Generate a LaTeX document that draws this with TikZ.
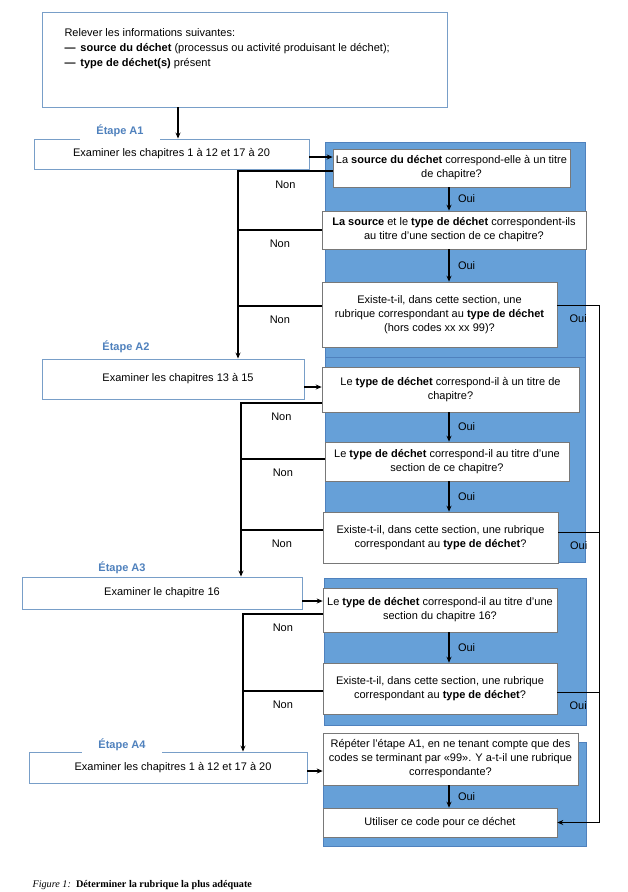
\documentclass[tikz,border=0pt]{standalone}
\usepackage{fontspec}
\setmainfont{Liberation Sans}
\newfontfamily\capfont{Liberation Serif}
\usetikzlibrary{arrows.meta}
\definecolor{panelblue}{RGB}{102,160,216}
\definecolor{paneledge}{RGB}{79,129,189}
\definecolor{etapeblue}{RGB}{79,129,189}
\definecolor{stepedge}{RGB}{120,158,200}
\definecolor{qedge}{RGB}{120,120,120}

\begin{document}
\begin{tikzpicture}[x=1pt,y=-1pt,
  every node/.style={font=\fontsize{11}{14}\selectfont},
  stepbox/.style={draw=stepedge,fill=white,inner sep=0pt,line width=0.9pt},
  qbox/.style={draw=qedge,fill=white,inner sep=0pt,align=center,line width=0.6pt},
  etape/.style={fill=white,text=etapeblue,font=\fontsize{11}{14}\selectfont\bfseries,inner xsep=16pt,inner ysep=3pt},
  wire/.style={line width=1.4pt},
  arr/.style={wire,-{Stealth[length=6pt,width=5pt]}},
  thinwire/.style={line width=1pt},
  nonlbl/.style={below=6pt},
  ouilbl/.style={right=5pt}]
\useasboundingbox (0,0) rectangle (628,892);

% blue panels
\filldraw[fill=panelblue,draw=paneledge] (325,142) rectangle (585,357);
\filldraw[fill=panelblue,draw=paneledge] (325,357) rectangle (585,562);
\filldraw[fill=panelblue,draw=paneledge] (324,578) rectangle (586,725);
\filldraw[fill=panelblue,draw=paneledge] (323,742) rectangle (586,846);

\node[stepbox,minimum width=405pt,minimum height=95pt] (info) at (244.5,59.5) {};
\node[anchor=west,align=left,font=\fontsize{11}{15}\selectfont] (infotext) at (61,49)
  {Relever les informations suivantes:\\
   \textbf{—}\, \textbf{source du déchet} (processus ou activité produisant le déchet);\\
   \textbf{—}\, \textbf{type de déchet(s)} présent};

\node[stepbox,minimum width=275pt,minimum height=30pt] (a1) at (171.5,154) {Examiner les chapitres 1 à 12 et 17 à 20};
\node[stepbox,minimum width=262pt,minimum height=40pt] (a2) at (173,379) {\hspace{10pt}Examiner les chapitres 13 à 15};
\node[stepbox,minimum width=280pt,minimum height=32pt] (a3) at (162,593) {Examiner le chapitre 16};
\node[stepbox,minimum width=278pt,minimum height=31pt] (a4) at (168,767.5) {\hspace{10pt}Examiner les chapitres 1 à 12 et 17 à 20};

\node[etape] (e1) at (120,131) {Étape A1};
\node[etape] (e2) at (126,347) {Étape A2};
\node[etape] (e3) at (122,568) {Étape A3};
\node[etape] (e4) at (122,745) {Étape A4};

\node[qbox,minimum width=237pt,minimum height=38pt] (q1) at (451.5,168) {La \textbf{source du déchet} correspond-elle à un titre\\de chapitre?};
\node[qbox,minimum width=264pt,minimum height=38pt] (q2) at (454,230) {\textbf{La source} et le \textbf{type de déchet} correspondent-ils\\au titre d'une section de ce chapitre?};
\node[qbox,minimum width=235pt,minimum height=65pt] (q3) at (439.5,314.5) {Existe-t-il, dans cette section, une\\rubrique correspondant au \textbf{type de déchet}\\(hors codes xx xx 99)?};
\node[qbox,minimum width=257pt,minimum height=45pt] (q4) at (450.5,389.5) {Le \textbf{type de déchet} correspond-il à un titre de\\chapitre?};
\node[qbox,minimum width=244pt,minimum height=39pt] (q5) at (447,461.5) {Le \textbf{type de déchet} correspond-il au titre d'une\\section de ce chapitre?};
\node[qbox,minimum width=235pt,minimum height=51pt] (q6) at (440.5,537.5) {Existe-t-il, dans cette section, une rubrique\\correspondant au \textbf{type de déchet}?};
\node[qbox,minimum width=234pt,minimum height=44pt] (q7) at (440,610) {Le \textbf{type de déchet} correspond-il au titre d'une\\section du chapitre 16?};
\node[qbox,minimum width=234pt,minimum height=51pt] (q8) at (440,688.5) {Existe-t-il, dans cette section, une rubrique\\correspondant au \textbf{type de déchet}?};
\node[qbox,minimum width=255pt,minimum height=52pt] (q9) at (450.5,759) {Répéter l'étape A1, en ne tenant compte que des\\codes se terminant par «99». Y a-t-il une rubrique\\correspondante?};
\node[qbox,minimum width=234pt,minimum height=29pt] (q10) at (440,822.5) {Utiliser ce code pour ce déchet};

\coordinate (ouix) at (449,0);
\coordinate (t1) at (238,0);
\coordinate (t2) at (241,0);
\coordinate (t3) at (243,0);
\coordinate (rt) at (599,0);

\draw[arr] ([xshift=-66.5pt]info.south) coordinate (d0) -- (d0 |- a1.north);
\draw[arr] ([yshift=-3pt]a1.east) -- ([yshift=-3pt]a1.east -| q1.west);
\draw[arr] ([yshift=-8pt]a2.east) -- ([yshift=-8pt]a2.east -| q4.west);
\draw[arr] ([yshift=-8pt]a3.east) -- ([yshift=-8pt]a3.east -| q7.west);
\draw[arr] ([yshift=-3.5pt]a4.east) -- ([yshift=-3.5pt]a4.east -| q9.west);

% Oui, going down
\draw[arr] (q1.south -| ouix) -- node[ouilbl] (o1) {Oui} (q2.north -| ouix);
\draw[arr] (q2.south -| ouix) -- node[ouilbl] (o2) {Oui} (q3.north -| ouix);
\draw[arr] (q4.south -| ouix) -- node[ouilbl] (o3) {Oui} (q5.north -| ouix);
\draw[arr] (q5.south -| ouix) -- node[ouilbl] (o4) {Oui} (q6.north -| ouix);
\draw[arr] (q7.south -| ouix) -- node[ouilbl] (o5) {Oui} (q8.north -| ouix);
\draw[arr] (q9.south -| ouix) -- node[ouilbl] (o6) {Oui} (q10.north -| ouix);

% Non, back to the next step
\draw[arr] ([yshift=-3pt]q1.west) -| node[pos=0.25,nonlbl] (n1) {Non} (t1 |- a2.north);
\draw[wire] (q2.west) -- node[nonlbl] (n2) {Non} (q2.west -| t1);
\draw[wire] ([yshift=8.5pt]q3.west) -- node[nonlbl] (n3) {Non} ([yshift=8.5pt]q3.west -| t1);
\draw[arr] ([yshift=-13.5pt]q4.west) -| node[pos=0.25,nonlbl] (n4) {Non} (t2 |- a3.north);
\draw[wire] ([yshift=2.5pt]q5.west) -- node[nonlbl] (n5) {Non} ([yshift=2.5pt]q5.west -| t2);
\draw[wire] ([yshift=7.5pt]q6.west) -- node[nonlbl] (n6) {Non} ([yshift=7.5pt]q6.west -| t2);
\draw[arr] ([yshift=-4pt]q7.west) -| node[pos=0.25,nonlbl] (n7) {Non} (t3 |- a4.north);
\draw[wire] ([yshift=-2.5pt]q8.west) -- node[nonlbl] (n8) {Non} ([yshift=-2.5pt]q8.west -| t3);

% Oui, to the last box
\draw[thinwire,-{Stealth[length=6pt,width=5pt]}] ([yshift=9.5pt]q3.east) -- node[nonlbl] (r1) {Oui} ([yshift=9.5pt]q3.east -| rt) |- (q10.east);
\draw[thinwire] ([yshift=5.5pt]q6.east) -- node[nonlbl] (r2) {Oui} ([yshift=5.5pt]q6.east -| rt);
\draw[thinwire] ([yshift=-3.5pt]q8.east) -- node[nonlbl] (r3) {Oui} ([yshift=-3.5pt]q8.east -| rt);

\node[anchor=west,font=\capfont\fontsize{10.2}{12}\selectfont] (caption) at (29,885)
  {\textit{Figure 1:}\enspace\textbf{Déterminer la rubrique la plus adéquate}};
\end{tikzpicture}
\end{document}
